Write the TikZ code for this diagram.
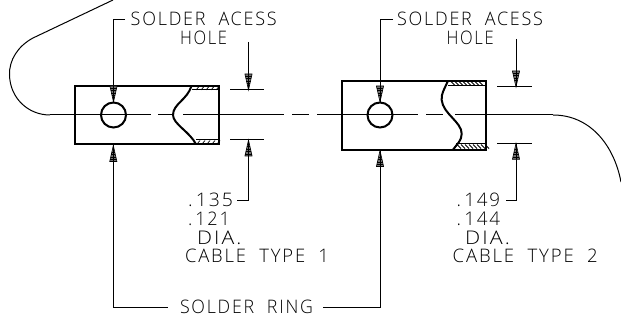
\documentclass[tikz,border=0pt]{standalone}
\usepackage{fontspec}
\usepackage{graphicx}
\setmainfont{Open Sans Light}[LetterSpace=10]
\tikzset{
  outline/.style={line width=2pt,line join=miter},
  thinline/.style={line width=1pt},
  cad/.style={inner sep=0pt,outer sep=0pt,anchor=south west,text=black},
  pics/hatchhead/.style={code={
    \fill[black!55] (0,0) -- (-3.6,-16) -- (3.6,-16) -- cycle;
    \draw[line width=0.6pt,black] (0,0) -- (-3.6,-16) -- (3.6,-16) -- cycle;
    \foreach \yy in {-14,-11.5,-9,-6.5}{\draw[line width=0.6pt,black] ({\yy*0.225},\yy) -- ({-\yy*0.225},\yy);}
    \draw[line width=1pt] (0,0) -- (0,-16);
  }}
}
\newcommand{\cadtext}[5]{\node[cad] (#1) at (#2,#3) {\resizebox{#4pt}{13.5pt}{#5}};}
\begin{document}
\begin{tikzpicture}[x=1pt,y=-1pt]
\useasboundingbox (0,0) rectangle (621,328);
\fill[white] (0,0) rectangle (621,328);
% cable
\coordinate (cabA) at (113,0);
\coordinate (cabB) at (50,115);
\coordinate (cabC) at (553,115);
\coordinate (cabD) at (621,182);
\draw[thinline] (cabA) -- (33,38) .. controls (18,46) and (9,60) .. (9.5,75) .. controls (10,98) and (28,115) .. (cabB);
\draw[thinline] (cabC) .. controls (590,115) and (614,145) .. (cabD);
% centre line
\foreach \a/\b in {50/151,158/172,183/284,292/309,317/418,426/443,455/553}{
  \draw[thinline] (\a,115) -- (\b,115);
}
% left body
\node[draw,outline,circle,minimum size=25pt,inner sep=0pt] (holeA) at (113.5,115) {};
\draw[outline] (192,86) -- (75,86) -- (75,144.3) -- (196,144.3);
\draw[outline] (191.5,86) .. controls (187,100) and (173,104) .. (173,115) .. controls (173,124) and (190,132) .. (196,144.3);
\draw[outline] (192,86) -- (219,86) -- (219,144.3) -- (196,144.3);
\draw[thinline] (192,90) -- (219,90) (196,140) -- (219,140);
\foreach \x in {196,201,206,211,216}{
  \draw[line width=0.7pt] (\x,90) -- (\x+3,86.5);
  \draw[line width=0.7pt] (\x+1,144) -- (\x+4,140.5);
}
% right body
\node[draw,outline,circle,minimum size=25pt,inner sep=0pt] (holeB) at (380,115) {};
\draw[outline] (448,80.7) -- (341.7,80.7) -- (341.7,149.7) -- (453,149.7);
\draw[outline] (448,80.7) .. controls (444,90) and (441,94) .. (441.7,100) .. controls (443,114) and (462,122) .. (461.7,134) .. controls (461.5,141) and (457,144) .. (453,149.7);
\draw[outline] (448,80.7) -- (485.7,80.7) -- (485.7,149.7) -- (453,149.7);
\draw[thinline] (448,86) -- (485.7,86) (456,144) -- (485.7,144);
\foreach \x in {451,455,459,463,467,471,475,479}{
  \draw[line width=1pt] (\x,81.5) -- (\x+4,85.5);
  \draw[line width=1pt] (\x+6,144.5) -- (\x+10,148.5);
}
% leaders to holes
\coordinate (tipA) at (113.5,102);
\coordinate (tipB) at (380,102);
\draw[thinline] (125,19.5) -- (113.5,19.5) -- (tipA);
\draw[thinline] (393,19.5) -- (380,19.5) -- (tipB);
\pic at (tipA) {hatchhead};
\pic at (tipB) {hatchhead};
% dimensions
\coordinate (dA1) at (248.5,90);
\coordinate (dA2) at (248.5,140);
\coordinate (dB1) at (516,87);
\coordinate (dB2) at (516,143.3);
\draw[thinline] (230,90) -- (264,90) (230,140) -- (264,140);
\draw[thinline] (497,87) -- (532,87) (497,143.3) -- (532,143.3);
\draw[thinline] (248.5,42) -- (dA1);
\draw[thinline] (516,39) -- (dB1);
\draw[thinline] (dA2) -- (248.5,200.7) -- (237,200.7);
\draw[thinline] (dB2) -- (516,200.7) -- (506,200.7);
\pic at (dA1) {hatchhead};
\pic at (dB1) {hatchhead};
\pic[rotate=180] at (dA2) {hatchhead};
\pic[rotate=180] at (dB2) {hatchhead};
% solder ring
\coordinate (rA) at (113.3,145.5);
\coordinate (rB) at (380,150.5);
\draw[thinline] (rA) -- (113.3,308) -- (168,308);
\draw[thinline] (rB) -- (380,308) -- (322.7,308);
\pic[rotate=180] at (rA) {hatchhead};
\pic[rotate=180] at (rB) {hatchhead};
% texts
\cadtext{t1}{130.7}{26}{146}{SOLDER\ \ ACESS}
\cadtext{t2}{180}{44.5}{47}{HOLE}
\cadtext{t3}{397}{26}{146}{SOLDER\ \ ACESS}
\cadtext{t4}{446.7}{44.5}{47}{HOLE}
\cadtext{t5}{188}{207}{45}{.\,135}
\cadtext{t6}{188}{226}{42}{.\,121}
\cadtext{t7}{197}{245}{44.5}{DIA.}
\cadtext{t8}{185}{263}{144}{CABLE\ \ TYPE\ \ 1}
\cadtext{t9}{456.7}{207}{43.5}{.\,149}
\cadtext{t10}{456.7}{226}{43.5}{.\,144}
\cadtext{t11}{465}{245}{45}{DIA.}
\cadtext{t12}{452.7}{263}{145}{CABLE\ \ TYPE\ \ 2}
\cadtext{t13}{180}{314}{133}{SOLDER\ \ RING}
\end{tikzpicture}
\end{document}
